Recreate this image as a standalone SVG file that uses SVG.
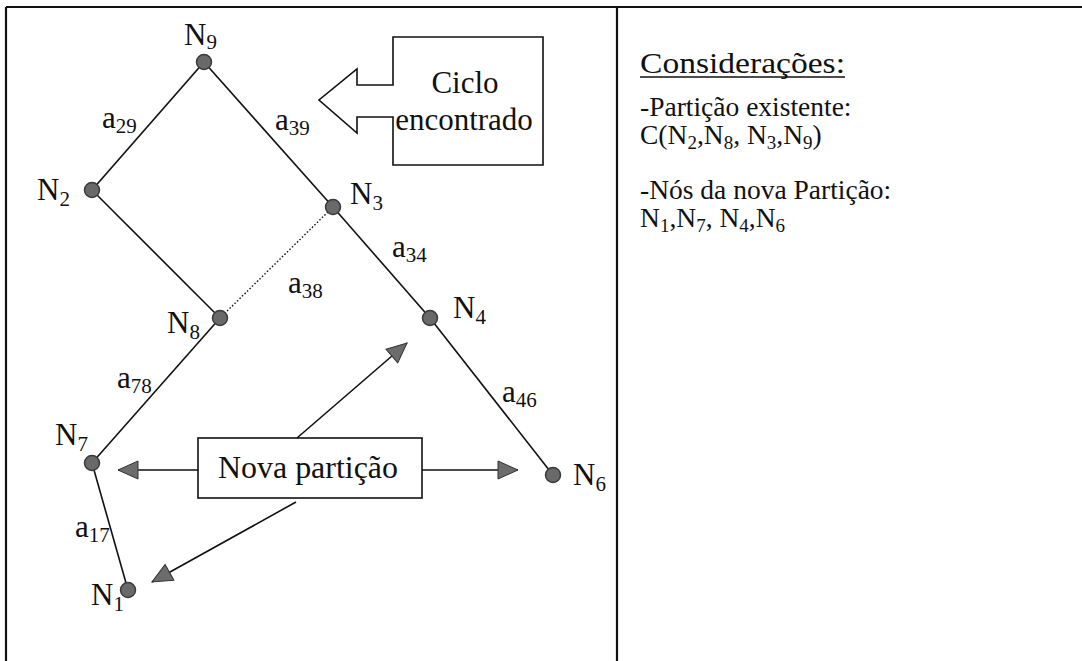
<svg xmlns="http://www.w3.org/2000/svg" width="1082" height="661" viewBox="0 0 1082 661" font-family="'Liberation Serif', 'DejaVu Serif', 'Times New Roman', serif">
<style>
text{font-family:'Liberation Serif','DejaVu Serif','Times New Roman',serif;font-size:31px;fill:#111}
.sub{font-size:21px}
.rt{font-size:27.5px}
.rsub{font-size:19px}
.edge{stroke:#111;stroke-width:1.6;fill:none}
.node{fill:#696969;stroke:#3a3a3a;stroke-width:1.5}
.frame{stroke:#111;stroke-width:2.2;fill:none}
.box{fill:#fff;stroke:#111;stroke-width:1.6}
.arr{stroke:#111;stroke-width:1.6;fill:none;marker-end:url(#ah)}
</style>
<defs>
<marker id="ah" markerUnits="userSpaceOnUse" markerWidth="24" markerHeight="22" refX="21" refY="10" orient="auto">
<path d="M1,1 L21,10 L1,19 Z" fill="#6c6c6c" stroke="#333" stroke-width="1"/>
</marker>
</defs>
<rect width="1082" height="661" fill="#fff"/>
<g id="frame">
<line class="frame" x1="6" y1="7" x2="1082" y2="7"/>
<line class="frame" x1="6" y1="7" x2="6" y2="661"/>
<line class="frame" x1="617" y1="7" x2="617" y2="661"/>
</g>
<g id="connectors">
<line class="edge" x1="204" y1="62" x2="92" y2="190"/>
<line class="edge" x1="204" y1="62" x2="333" y2="207"/>
<line class="edge" x1="92" y1="190" x2="220" y2="318"/>
<line class="edge" x1="333" y1="207" x2="430" y2="318"/>
<line class="edge" x1="430" y1="318" x2="553" y2="475"/>
<line class="edge" x1="220" y1="318" x2="92" y2="463"/>
<line class="edge" x1="92" y1="463" x2="128" y2="590"/>
<line x1="333" y1="207" x2="220" y2="318" stroke="#111" stroke-width="1.4" stroke-dasharray="1.5,2"/>
<line class="arr" x1="198" y1="470" x2="118" y2="470"/>
<line class="arr" x1="422" y1="470" x2="518" y2="470"/>
<line class="arr" x1="297" y1="438" x2="407" y2="343"/>
<line class="arr" x1="296" y1="502" x2="152" y2="582"/>
</g>
<g id="edge-labels">
<text x="102" y="128">a<tspan class="sub" dy="5">29</tspan></text>
<text x="275" y="130">a<tspan class="sub" dy="5">39</tspan></text>
<text x="288" y="293">a<tspan class="sub" dy="5">38</tspan></text>
<text x="392" y="257">a<tspan class="sub" dy="5">34</tspan></text>
<text x="117" y="388">a<tspan class="sub" dy="5">78</tspan></text>
<text x="502" y="402">a<tspan class="sub" dy="5">46</tspan></text>
<text x="75" y="537">a<tspan class="sub" dy="5">17</tspan></text>
</g>
<g id="N9"><circle class="node" cx="204" cy="62" r="7.5"/><text x="184" y="45">N<tspan class="sub" dy="4">9</tspan></text></g>
<g id="N2"><circle class="node" cx="92" cy="190" r="7.5"/><text x="37" y="200">N<tspan class="sub" dy="6">2</tspan></text></g>
<g id="N3"><circle class="node" cx="333" cy="207" r="7.5"/><text x="350" y="204">N<tspan class="sub" dy="6">3</tspan></text></g>
<g id="N8"><circle class="node" cx="220" cy="318" r="7.5"/><text x="167" y="333">N<tspan class="sub" dy="6">8</tspan></text></g>
<g id="N4"><circle class="node" cx="430" cy="318" r="7.5"/><text x="453" y="318">N<tspan class="sub" dy="6">4</tspan></text></g>
<g id="N7"><circle class="node" cx="92" cy="463" r="7.5"/><text x="55" y="445">N<tspan class="sub" dy="6">7</tspan></text></g>
<g id="N1"><circle class="node" cx="128" cy="590" r="7.5"/><text x="91" y="605">N<tspan class="sub" dy="6">1</tspan></text></g>
<g id="N6"><circle class="node" cx="553" cy="475" r="7.5"/><text x="573" y="485">N<tspan class="sub" dy="6">6</tspan></text></g>
<g id="ciclo">
<path class="box" d="M393,37 H543 V165 H393 V117 H357 V133 L319,100 L357,69 V85 H393 Z"/>
<text x="465" y="93" text-anchor="middle">Ciclo</text>
<text x="464" y="130" text-anchor="middle">encontrado</text>
</g>
<g id="nova">
<rect class="box" x="198" y="438" width="224" height="60"/>
<text x="218" y="478" textLength="180" lengthAdjust="spacingAndGlyphs">Nova partição</text>
</g>
<g id="consideracoes">
<text class="rt" x="640" y="73" style="font-size:29.5px" textLength="205" lengthAdjust="spacingAndGlyphs">Considerações:</text>
<line x1="640" y1="77" x2="845" y2="77" stroke="#111" stroke-width="1.3"/>
<text class="rt" x="640" y="116">-Partição existente:</text>
<text class="rt" x="640" y="144">C(N<tspan class="rsub" dy="5">2</tspan><tspan dy="-5">,N</tspan><tspan class="rsub" dy="5">8</tspan><tspan dy="-5">, N</tspan><tspan class="rsub" dy="5">3</tspan><tspan dy="-5">,N</tspan><tspan class="rsub" dy="5">9</tspan><tspan dy="-5">)</tspan></text>
<text class="rt" x="640" y="199">-Nós da nova Partição:</text>
<text class="rt" x="640" y="227">N<tspan class="rsub" dy="5">1</tspan><tspan dy="-5">,N</tspan><tspan class="rsub" dy="5">7</tspan><tspan dy="-5">, N</tspan><tspan class="rsub" dy="5">4</tspan><tspan dy="-5">,N</tspan><tspan class="rsub" dy="5">6</tspan></text>
</g>
</svg>
